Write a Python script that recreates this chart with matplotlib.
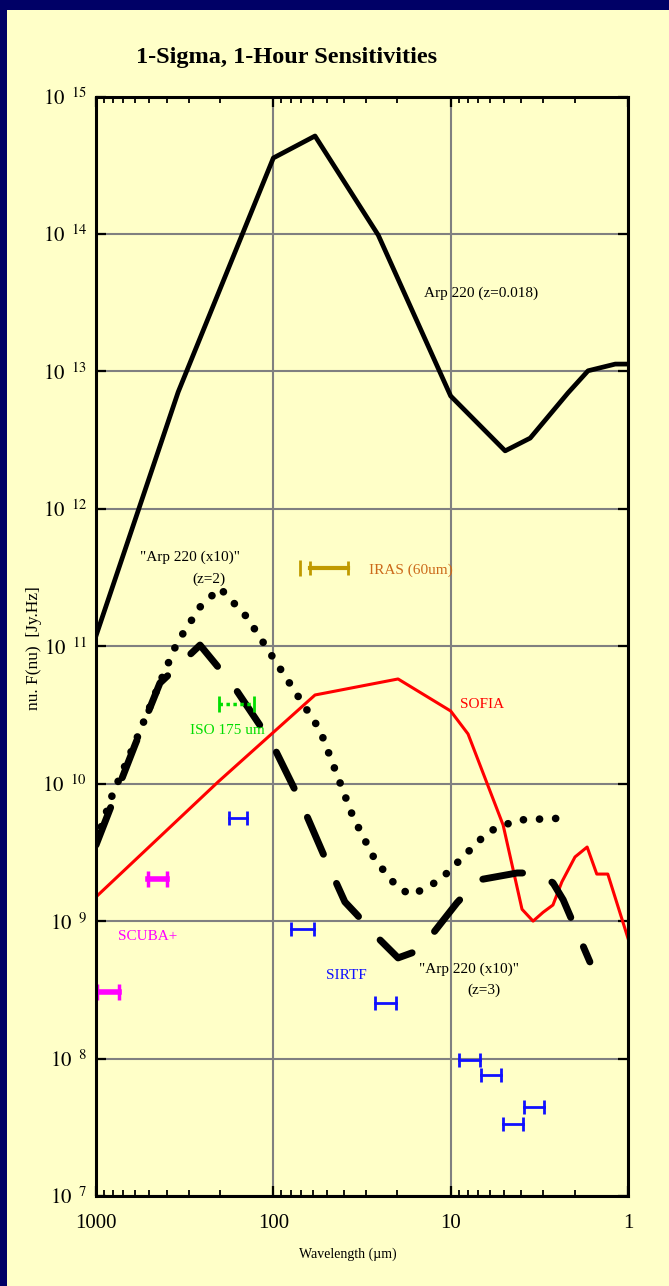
import numpy as np
import matplotlib
matplotlib.use("Agg")
import matplotlib.pyplot as plt
from matplotlib.patches import Rectangle
from matplotlib.ticker import FixedLocator, FuncFormatter, LogLocator, NullLocator

plt.rcParams['font.family'] = ['Liberation Serif', 'DejaVu Serif']
plt.rcParams['mathtext.fontset'] = 'stix'

# --- data (wavelength in um, nu F(nu) in Jy.Hz) ---
arp_wl = [1000, 344, 100, 58.2, 25.6, 10, 4.93, 3.56, 2.18, 1.68, 1.18, 1.0]
arp_f = [1.19e11, 7.08e12, 3.57e14, 5.16e14, 9.8e13, 6.62e12, 2.64e12, 3.27e12,
         6.97e12, 1.01e13, 1.13e13, 1.13e13]

sofia_wl = [1000, 408, 205, 58.2, 19.8, 10, 7.98, 5.06, 3.96, 3.43, 3.01, 2.65,
            2.36, 1.99, 1.70, 1.50, 1.30, 1.0]
sofia_f = [1.50e9, 4.46e9, 1.03e10, 4.42e10, 5.78e10, 3.38e10, 2.30e10, 5.0e9,
           1.22e9, 1.0e9, 1.16e9, 1.31e9, 1.93e9, 2.93e9, 3.46e9, 2.20e9, 2.20e9, 7.5e8]

z2_wl = [1000, 802, 603, 447, 349, 259, 200, 141, 88.2, 54.6, 35.5, 26.7, 19.8,
         16.5, 11.5, 8.52, 6.15, 4.22, 2.27]
z2_f = [3.77e9, 8.55e9, 1.98e10, 5.05e10, 1.06e11, 1.93e11, 2.65e11, 1.63e11,
        6.38e10, 2.46e10, 5.72e9, 2.79e9, 1.74e9, 1.55e9, 1.99e9, 2.93e9, 4.46e9,
        5.44e9, 5.62e9]

z3_wl = [1000, 603, 436, 259, 169, 102, 70.8, 51.1, 39.5, 33.7, 26.7, 19.8, 14.9,
         9.21, 7.01, 4.22, 3.26, 2.65, 2.32, 1.64]
z3_f = [3.58e9, 1.91e10, 5.40e10, 1.02e11, 5.22e10, 1.98e10, 7.61e9, 2.88e9,
        1.38e9, 1.11e9, 7.93e8, 5.40e8, 6.17e8, 1.36e9, 1.99e9, 2.24e9, 2.24e9,
        1.90e9, 1.43e9, 5.05e8]

# instrument sensitivity bars: long end, short end, level
sirtf_long = [178, 79.4, 26.7, 8.97, 6.74, 3.86, 5.06]
sirtf_short = [141, 58.9, 20.3, 6.83, 5.2, 2.97, 3.91]
sirtf_f = [5.62e9, 8.77e8, 2.54e8, 9.77e7, 7.59e7, 4.45e7, 3.34e7]

scuba_long = [509, 987]
scuba_short = [398, 741]
scuba_f = [2.03e9, 3.05e8]

iso_long, iso_short, iso_f = 202, 128, 3.80e10
iras_long, iras_short, iras_f = 62.1, 37.9, 3.71e11
iras_mark = 70.6

yellow = '#ffffc8'
navy = '#000066'

fig = plt.figure(figsize=(6.69, 12.86), dpi=100)
fig.patch.set_facecolor(navy)
fig.add_artist(Rectangle((7 / 669, 0), 1 - 7 / 669, 1 - 10 / 1286,
                         transform=fig.transFigure, facecolor=yellow,
                         edgecolor='none', zorder=-10))

ax = fig.add_axes([96 / 669, 90 / 1286, 532 / 669, 1099.5 / 1286])
ax.set_facecolor(yellow)
ax.set_xscale('log')
ax.set_yscale('log')
ax.set_xlim(1000, 1)
ax.set_ylim(1e7, 1e15)

ax.grid(True, which='major', color='#808080', lw=1.5)

ax.plot(arp_wl, arp_f, color='black', lw=3.4, solid_joinstyle='round')
ax.plot(sofia_wl, sofia_f, color='#ff0000', lw=2.2)
ax.plot(z2_wl, z2_f, color='black', lw=5.5, dashes=(0.01, 2.1),
        dash_capstyle='round')
ax.plot(z3_wl, z3_f, color='black', lw=5, dashes=(5.8, 4.6),
        dash_capstyle='round')

for lo, hi, f in zip(sirtf_long, sirtf_short, sirtf_f):
    ax.plot([lo, hi], [f, f], color='#1010ff', lw=2, marker='|', ms=10, mew=2)
for lo, hi, f in zip(scuba_long, scuba_short, scuba_f):
    ax.plot([lo, hi], [f, f], color='#ff00ff', lw=4, marker='|', ms=11, mew=2.5)
ax.plot([iso_long, iso_short], [iso_f, iso_f], color='#00dd00', lw=2.5,
        ls=(0, (1, 1)), marker='|', ms=11, mew=2)
ax.plot([iras_long, iras_short], [iras_f, iras_f], color='#c09a00', lw=3,
        marker='|', ms=10, mew=2)
ax.plot([iras_mark], [iras_f], color='#c09a00', marker='|', ms=11, mew=2,
        ls='none')

fs = 11
ax.text(6.75, 3.7e13, 'Arp 220 (z=0.018)', fontsize=fs, ha='center', va='center')
ax.text(6.65, 3.8e10, 'SOFIA', fontsize=fs, color='#ff0000', ha='center', va='center')
ax.text(28.8, 3.59e11, 'IRAS (60um)', fontsize=fs, color='#cc6a1a', ha='left', va='center')
ax.text(182, 2.42e10, 'ISO 175 um', fontsize=fs, color='#00dd00', ha='center', va='center')
ax.text(509, 7.67e8, 'SCUBA+', fontsize=fs, color='#ff00ff', ha='center', va='center')
ax.text(38.9, 4.05e8, 'SIRTF', fontsize=fs, color='#1010ff', ha='center', va='center')
ax.text(295, 4.46e11, '"Arp 220 (x10)"', fontsize=fs, ha='center', va='center')
ax.text(231, 3.08e11, '(z=2)', fontsize=fs, ha='center', va='center')
ax.text(7.87, 4.49e8, '"Arp 220 (x10)"', fontsize=fs, ha='center', va='center')
ax.text(6.49, 3.12e8, '(z=3)', fontsize=fs, ha='center', va='center')

ax.xaxis.set_major_locator(FixedLocator([1000, 100, 10, 1]))
ax.xaxis.set_minor_locator(LogLocator(base=10, subs=np.arange(2, 10)))
ax.xaxis.set_major_formatter(FuncFormatter(lambda v, p: '%g' % v))
ax.xaxis.set_minor_formatter(FuncFormatter(lambda v, p: ''))
ax.yaxis.set_major_locator(FixedLocator([10.0 ** e for e in range(7, 16)]))
ax.yaxis.set_minor_locator(NullLocator())
ax.yaxis.set_major_formatter(FuncFormatter(
    lambda v, p: r'$\mathrm{10}^{\ \ %d}$' % round(np.log10(v))))

ax.tick_params(which='both', direction='in', top=True, right=True, colors='black')
ax.tick_params(which='major', length=7, width=1.6, labelsize=15)
ax.tick_params(which='minor', length=4, width=1.3)
ax.tick_params(axis='x', which='major', pad=13)
ax.tick_params(axis='y', which='major', pad=6.5)
for s in ax.spines.values():
    s.set_linewidth(2.2)

ax.set_xlabel('Wavelength (\u00b5m)', fontsize=10, va='center')
ax.xaxis.set_label_coords((348 - 96) / 532, -(1254 - 1196) / 1099.5)
ax.set_ylabel('nu. F(nu)  [Jy.Hz]', fontsize=12.5, va='center')
ax.yaxis.set_label_coords((34 - 96) / 532, (1196 - 648) / 1099.5)

fig.text(287 / 669, 1 - 58 / 1286, '1-Sigma, 1-Hour Sensitivities',
         fontsize=17.5, fontweight='bold', ha='center', va='center')

fig.savefig('out.png', dpi=100, facecolor=fig.get_facecolor())
